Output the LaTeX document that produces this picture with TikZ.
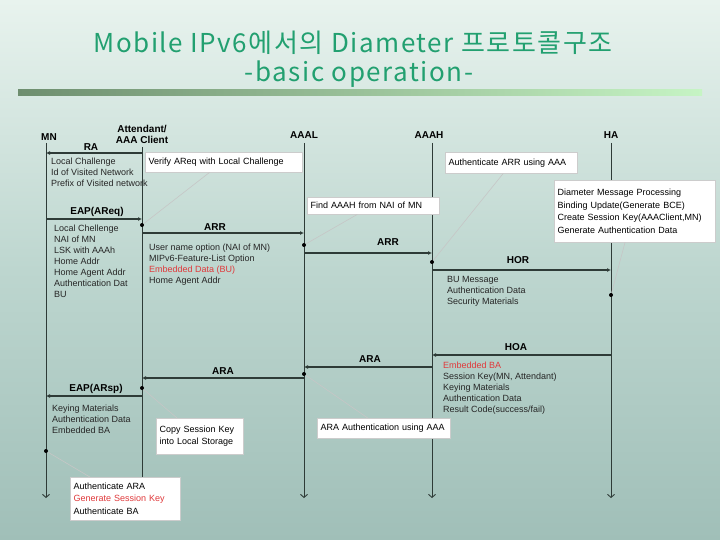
\documentclass[tikz,border=0pt]{standalone}
\usepackage{fontspec}
\setmainfont{Liberation Sans}
\newfontfamily\krfont[LetterSpace=6]{Noto Sans CJK KR}
\usetikzlibrary{arrows.meta, positioning, calc}
\definecolor{titlegreen}{HTML}{22A070}
\definecolor{wire}{HTML}{2E3B37}
\definecolor{hot}{HTML}{E0393B}
\definecolor{bgtop}{HTML}{E8F3EE}
\definecolor{bgmid}{HTML}{BDD6CF}
\definecolor{bgbottom}{HTML}{A0BFB8}
\definecolor{ruleleft}{HTML}{6E8E6F}
\definecolor{ruleright}{HTML}{C6F4C4}

\begin{document}
\begin{tikzpicture}[x=1pt, y=-1pt,
    actor/.style={font=\fontsize{10}{11}\selectfont\bfseries, align=center, inner sep=0pt},
    msg/.style={wire, line width=1.3pt, -{Latex[length=4pt, width=4pt]}},
    msg label/.style={font=\fontsize{10}{11}\selectfont\bfseries, inner sep=0pt},
    lifeline/.style={wire, line width=0.9pt, -{Straight Barb[length=3pt, width=7pt]}},
    payload/.style={font=\fontsize{9}{11}\selectfont, align=left, anchor=north west, inner sep=0pt, text=black!85},
    note/.style={draw=gray!40, fill=white, font=\fontsize{9}{12.8}\selectfont, align=left, anchor=north west, inner xsep=3.5pt, inner ysep=0pt, text width=#1},
    dot/.style={circle, fill=black, inner sep=0pt, minimum size=4pt},
    pointer/.style={draw=gray!45, line width=0.6pt},
    headline/.style={font=\krfont\fontsize{26}{30}\selectfont, text=titlegreen, inner sep=0pt, anchor=base},
]
\useasboundingbox (0,0) rectangle (720,540);

% Background and title
\shade[top color=bgtop, bottom color=bgbottom, middle color=bgmid] (0,0) rectangle (720,540);
\shade[left color=ruleleft, right color=ruleright] (18,90) rectangle (702,96);
\node[headline] (title) at (353,53) {Mobile IPv6에서의 Diameter 프로토콜구조};
\node[headline] (subtitle) at (359,82) {-basic operation-};

% Entities
\node[actor] (MN) at (49,137) {MN};
\node[actor] (ATT) at (142,134) {Attendant/\\AAA Client};
\node[actor] (AAAL) at (304,135) {AAAL};
\node[actor] (AAAH) at (429,135) {AAAH};
\node[actor] (HA) at (611,135) {HA};
\node[msg label] (ra) at (91,147) {RA};

% Lifelines
\coordinate (mn top) at (46,143);
\coordinate (att top) at (142,147);
\coordinate (aaal top) at (304,143);
\coordinate (aaah top) at (432,143);
\coordinate (ha top) at (611,143);
\foreach \name in {mn, att, aaal, aaah, ha}
    \draw[lifeline] (\name\space top) -- (\name\space top |- 0,498);

% Messages
\draw[msg] (att top |- 0,153) -- (mn top |- 0,153);
\draw[msg] (mn top |- 0,219) -- (att top |- 0,219);
\node[msg label] (eapreq) at (97,212) {EAP(AReq)};
\draw[msg] (att top |- 0,233) -- (aaal top |- 0,233);
\node[msg label] (arr1) at (215,227) {ARR};
\draw[msg] (aaal top |- 0,253) -- (aaah top |- 0,253);
\node[msg label] (arr2) at (388,242) {ARR};
\draw[msg] (aaah top |- 0,270) -- (ha top |- 0,270);
\node[msg label] (hor) at (518,260) {HOR};
\draw[msg] (ha top |- 0,355) -- (aaah top |- 0,355);
\node[msg label] (hoa) at (516,347) {HOA};
\draw[msg] (aaah top |- 0,367) -- (aaal top |- 0,367);
\node[msg label] (ara1) at (370,359) {ARA};
\draw[msg] (aaal top |- 0,378) -- (att top |- 0,378);
\node[msg label] (ara2) at (223,371) {ARA};
\draw[msg] (att top |- 0,396) -- (mn top |- 0,396);
\node[msg label] (eaprsp) at (96,389) {EAP(ARsp)};

% Message contents
\node[payload] (ra data) at (51,157.5) {Local Challenge\\Id of Visited Network\\Prefix of Visited network};
\node[payload] (areq data) at (54,224.5) {Local Chellenge\\NAI of MN\\LSK with AAAh\\Home Addr\\Home Agent Addr\\Authentication Dat\\BU};
\node[payload] (arr data) at (149,243.5) {User name option (NAI of MN)\\MIPv6-Feature-List Option\\{\color{hot}Embedded Data (BU)}\\Home Agent Addr};
\node[payload] (hor data) at (447,276.5) {BU Message\\Authentication Data\\Security Materials};
\node[payload] (hoa data) at (443,361.5) {{\color{hot}Embedded BA}\\Session Key(MN, Attendant)\\Keying Materials\\Authentication Data\\Result Code(success/fail)};
\node[payload] (arsp data) at (52,404.5) {Keying Materials\\Authentication Data\\Embedded BA};

% Processing notes
\node[note=150pt, minimum height=20pt] (verify) at (145,152) {Verify AReq with Local Challenge};
\node[note=125pt, minimum height=17pt] (find) at (307,197) {Find AAAH from NAI of MN};
\node[note=125pt, minimum height=21pt] (authARR) at (445,152) {Authenticate ARR using AAA};
\node[note=154pt, minimum height=62pt] (haproc) at (554,180) {Diameter Message Processing\\Binding Update(Generate BCE)\\Create Session Key(AAAClient,MN)\\Generate Authentication Data};
\node[note=126pt, minimum height=20pt] (araauth) at (317,418) {ARA Authentication using AAA};
\node[note=80pt, minimum height=36pt] (copy) at (156,418) {Copy Session Key\\into Local Storage};
\node[note=103pt, minimum height=43pt] (authARA) at (70,477) {Authenticate ARA\\{\color{hot}Generate Session Key}\\Authenticate BA};

% Processing points
\node[dot] (p verify) at (142,225) {};
\node[dot] (p find) at (304,245) {};
\node[dot] (p authARR) at (432,262) {};
\node[dot] (p haproc) at (611,295) {};
\node[dot] (p araauth) at (304,374) {};
\node[dot] (p copy) at (142,388) {};
\node[dot] (p authARA) at (46,451) {};

\draw[pointer] ($(verify.south west)!0.41!(verify.south east)$) -- (p verify);
\draw[pointer] ($(find.south west)!0.38!(find.south east)$) -- (p find);
\draw[pointer] ($(authARR.south west)!0.44!(authARR.south east)$) -- (p authARR);
\draw[pointer] ($(haproc.south west)!0.44!(haproc.south east)$) -- (p haproc);
\draw[pointer] ($(araauth.north west)!0.38!(araauth.north east)$) -- (p araauth);
\draw[pointer] ($(copy.north west)!0.24!(copy.north east)$) -- (p copy);
\draw[pointer] ($(authARA.north west)!0.18!(authARA.north east)$) -- (p authARA);

\end{tikzpicture}
\end{document}
